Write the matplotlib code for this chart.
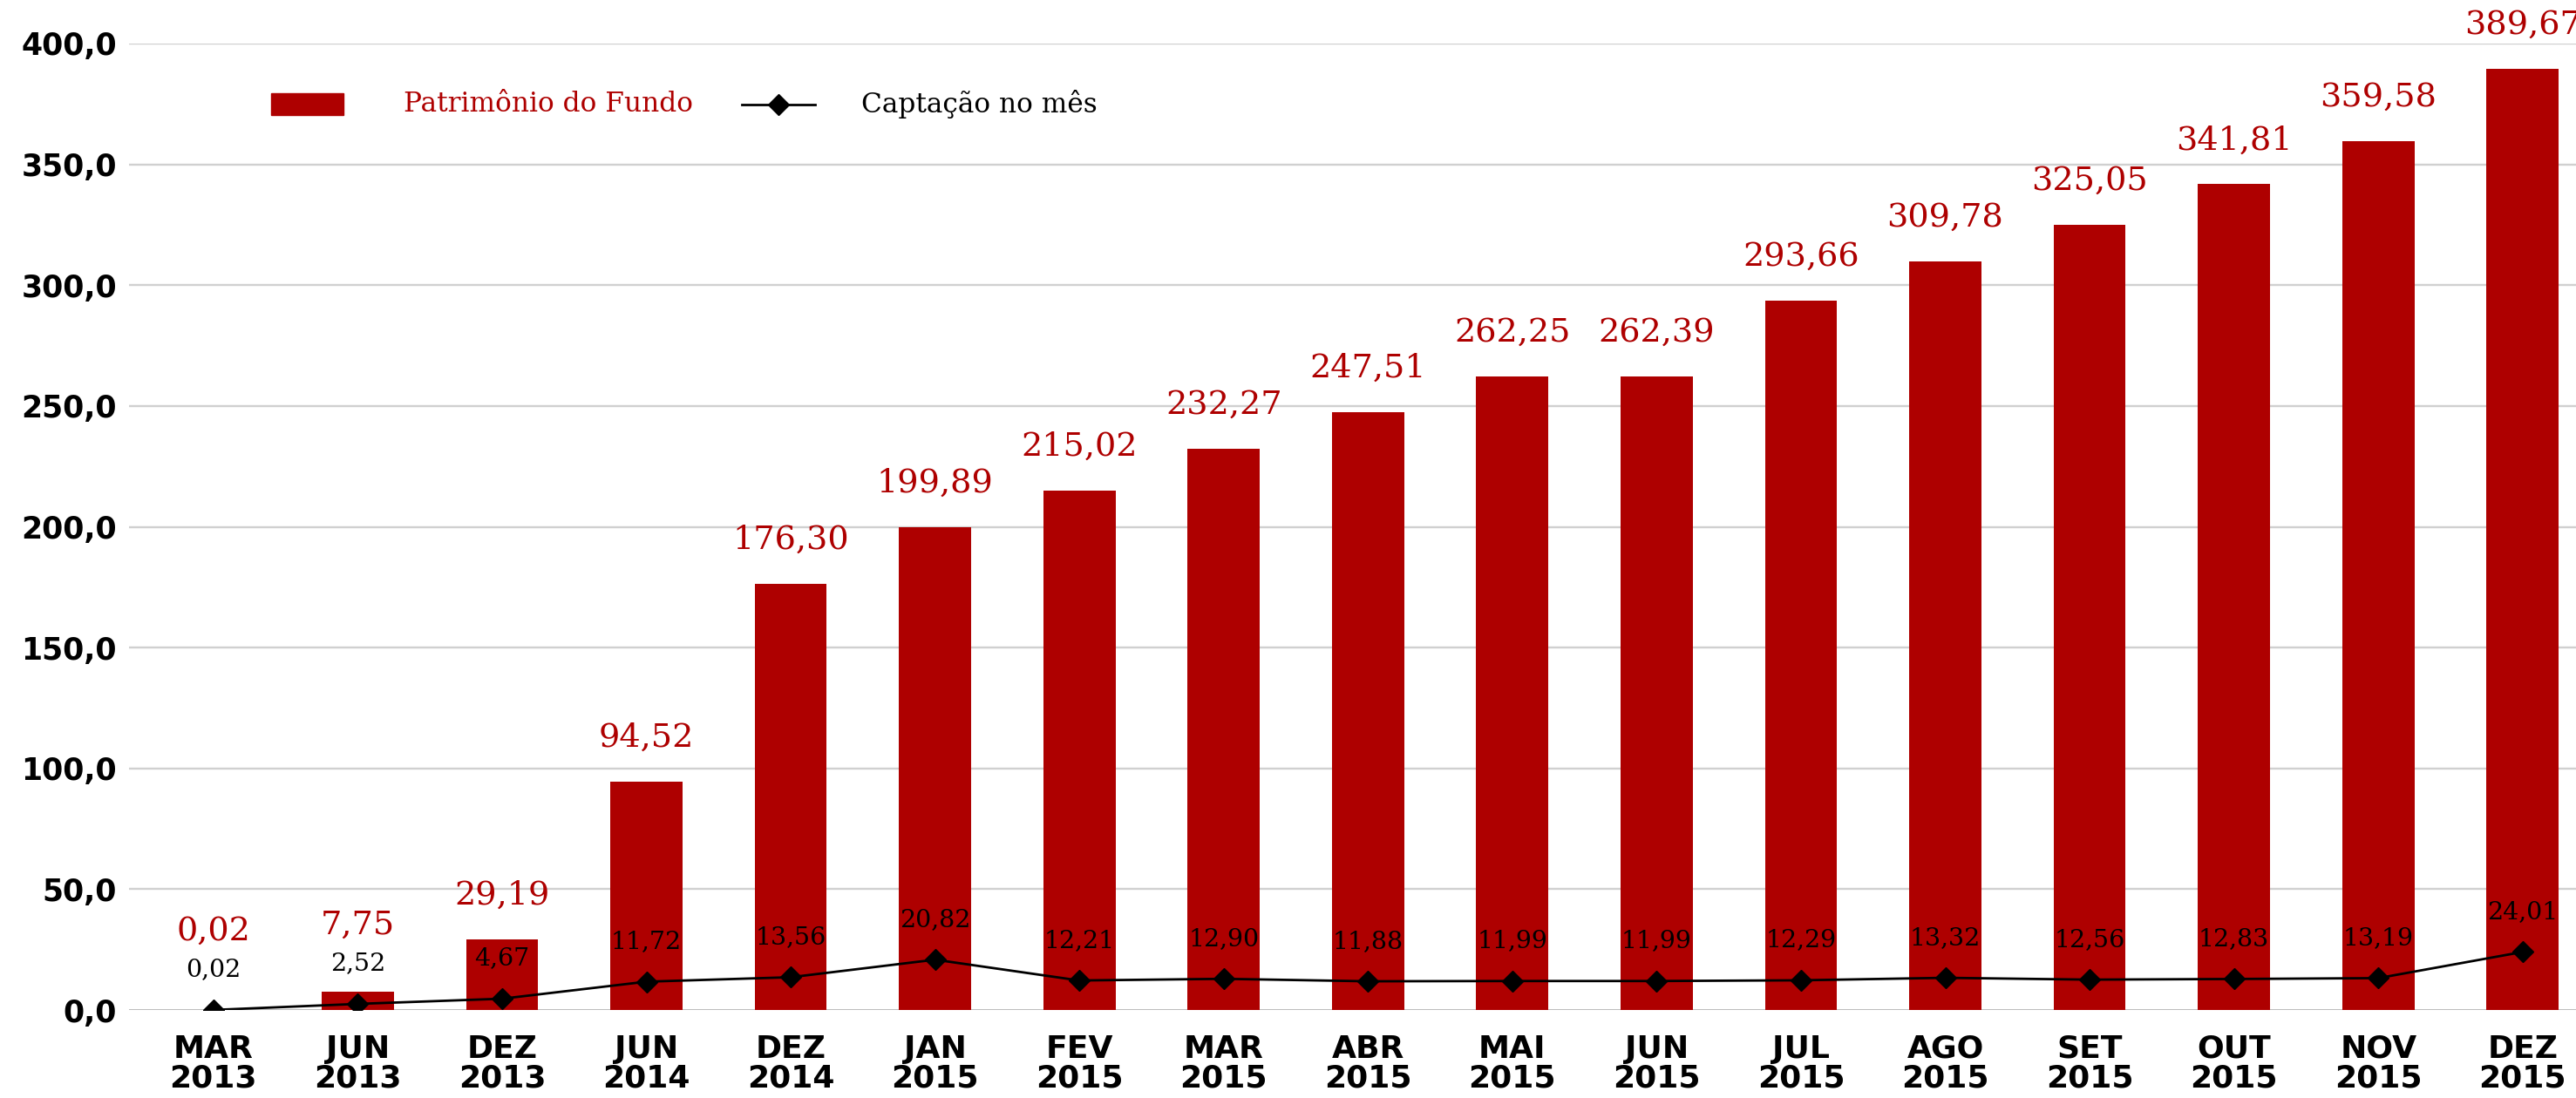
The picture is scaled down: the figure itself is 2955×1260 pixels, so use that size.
import numpy as np
import matplotlib.pyplot as plt
from matplotlib.patches import Rectangle
from matplotlib.lines import Line2D

# dados do gráfico
meses = ["MAR\n2013", "JUN\n2013", "DEZ\n2013", "JUN\n2014", "DEZ\n2014",
         "JAN\n2015", "FEV\n2015", "MAR\n2015", "ABR\n2015", "MAI\n2015",
         "JUN\n2015", "JUL\n2015", "AGO\n2015", "SET\n2015", "OUT\n2015",
         "NOV\n2015", "DEZ\n2015"]
patrimonio = [0.02, 7.75, 29.19, 94.52, 176.30, 199.89, 215.02, 232.27, 247.51,
              262.25, 262.39, 293.66, 309.78, 325.05, 341.81, 359.58, 389.67]
captacao = [0.02, 2.52, 4.67, 11.72, 13.56, 20.82, 12.21, 12.90, 11.88,
            11.99, 11.99, 12.29, 13.32, 12.56, 12.83, 13.19, 24.01]
yticks = [0, 50, 100, 150, 200, 250, 300, 350, 400]

VERMELHO = "#ae0000"
W, H = 2955, 1260


def fmt(v, casas=2):
    return f"{v:.{casas}f}".replace(".", ",")


fig = plt.figure(figsize=(W / 100, H / 100), dpi=100)
ax = fig.add_axes([148 / W, (H - 1159) / H, (W - 148) / W, 1109 / H])

x = np.arange(len(meses))
ax.bar(x, patrimonio, width=0.5, color=VERMELHO, zorder=2)
ax.plot(x, captacao, color="black", lw=2, marker="D", markersize=12,
        markerfacecolor="black", markeredgecolor="black", zorder=3)

ax.set_xlim(-0.585, 16.37)
ax.set_ylim(0, 400)

# grade
for t in yticks[1:]:
    ax.axhline(t, color="#d0d0d0", lw=1.7, zorder=1)
ax.axhline(0, color="#a8a8a8", lw=1.8, zorder=1)

for s in ax.spines.values():
    s.set_visible(False)

ax.set_yticks(yticks)
ax.set_yticklabels([fmt(t, 1) for t in yticks], fontfamily="DejaVu Sans",
                   fontweight="bold", fontsize=25)
ax.set_xticks(x)
ax.set_xticklabels(meses, fontfamily="DejaVu Sans", fontweight="bold",
                   fontsize=26, linespacing=1.0)
ax.tick_params(axis="y", length=0, pad=10)
ax.tick_params(axis="x", length=0, pad=20)

# rótulos (px -> unidades de dado)
s = 400 / 1109
for xi, pv, cv in zip(x, patrimonio, captacao):
    y_preto = cv + 46 * s
    y_verm = max(pv + 50 * s, y_preto + 44 * s)
    ax.text(xi, y_preto, fmt(cv), ha="center", va="center", fontsize=20.5,
            fontfamily="DejaVu Serif", color="black", zorder=4, clip_on=False)
    ax.text(xi, y_verm, fmt(pv), ha="center", va="center", fontsize=27.5,
            fontfamily="DejaVu Serif", color=VERMELHO, zorder=4, clip_on=False)


# legenda manual
def fx(px):
    return px / W


def fy(py):
    return (H - py) / H


fig.patches.append(Rectangle((fx(311), fy(132)), 83 / W, 25 / H,
                             transform=fig.transFigure, color=VERMELHO))
fig.text(fx(463), fy(120), "Patrimônio do Fundo", color=VERMELHO,
         fontfamily="DejaVu Serif", fontsize=22.5, va="center", ha="left")
fig.lines.append(Line2D([fx(851), fx(935)], [fy(120), fy(120)],
                        transform=fig.transFigure, color="black", lw=2))
fig.lines.append(Line2D([fx(893)], [fy(120)], transform=fig.transFigure,
                        color="black", marker="D", markersize=12))
fig.text(fx(988), fy(120), "Captação no mês", color="black",
         fontfamily="DejaVu Serif", fontsize=22.5, va="center", ha="left")

fig.savefig("out.png", dpi=100)
